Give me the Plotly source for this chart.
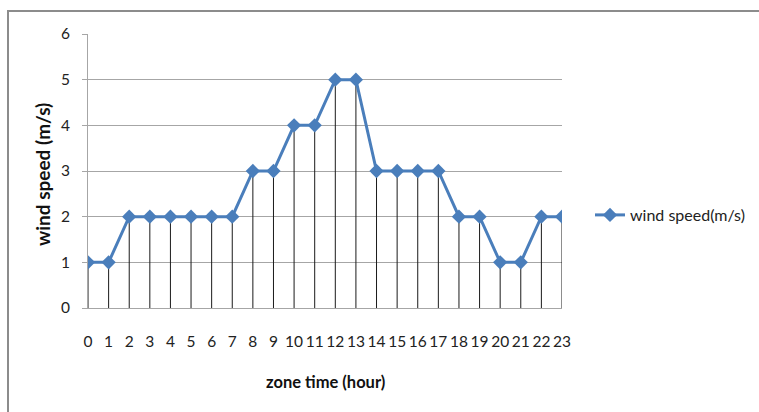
import plotly.graph_objects as go

# Hourly wind speed readings
hours = list(range(24))
wind_speed = [1, 1, 2, 2, 2, 2, 2, 2, 3, 3, 4, 4, 5, 5, 3, 3, 3, 3, 2, 2, 1, 1, 2, 2]
y_ticks = [0, 1, 2, 3, 4, 5, 6]
series_name = "wind speed(m/s)"
x_title = "zone time (hour)"
y_title = "wind speed (m/s)"

FONT = "Lato, Carlito, Calibri, sans-serif"
BLUE = "#4a7ebb"
GRID = "#a6a6a6"

# Drop lines from every point down to the category axis
drop_x, drop_y = [], []
for h, v in zip(hours, wind_speed):
    drop_x += [h, h, None]
    drop_y += [0, v, None]

fig = go.Figure()
fig.add_trace(go.Scatter(
    x=drop_x, y=drop_y, mode="lines",
    line=dict(color="#1a1a1a", width=1),
    showlegend=False, hoverinfo="skip",
))
fig.add_trace(go.Scatter(
    x=hours, y=wind_speed, mode="lines+markers", name=series_name,
    line=dict(color=BLUE, width=3),
    marker=dict(symbol="diamond", size=11, color=BLUE),
))

W, H = 759, 412
L, R, T, B = 88, 197, 34, 104
pw, ph = W - L - R, H - T - B

def px_x(x):
    return (x - L) / pw

def px_y(y):
    return (H - B - y) / ph

fig.update_layout(
    width=W, height=H,
    margin=dict(l=L, r=R, t=T, b=B, autoexpand=False),
    paper_bgcolor="white", plot_bgcolor="white",
    font=dict(family=FONT, size=15.5, color="#222222"),
    xaxis=dict(
        range=[0, 23], tickmode="array", tickvals=hours,
        ticktext=[str(h) for h in hours],
        showgrid=False, zeroline=False,
        showline=True, linecolor=GRID, linewidth=1,
        ticks="", ticklabelstandoff=19,
        tickfont=dict(size=15.5, family=FONT, color="#222222"),
    ),
    yaxis=dict(
        range=[0, 6], tickmode="array", tickvals=y_ticks,
        showgrid=True, gridcolor=GRID, gridwidth=1, zeroline=False,
        showline=True, linecolor=GRID, linewidth=1,
        ticks="outside", ticklen=5, tickcolor=GRID,
        ticklabelstandoff=9,
        tickfont=dict(size=15.5, family=FONT, color="#222222"),
    ),
    legend=dict(
        x=px_x(590), y=px_y(215), xanchor="left", yanchor="middle",
        font=dict(size=16, family=FONT, color="#222222"),
        bgcolor="rgba(0,0,0,0)", itemwidth=30,
    ),
    annotations=[
        dict(text=f"<b>{x_title}</b>", x=px_x(325), y=px_y(382),
             xref="paper", yref="paper", showarrow=False,
             xanchor="center", yanchor="middle",
             font=dict(size=16.5, family=FONT, color="#111111")),
        dict(text=f"<b>{y_title}</b>", x=px_x(42), y=px_y(175),
             xref="paper", yref="paper", showarrow=False, textangle=-90,
             xanchor="center", yanchor="middle",
             font=dict(size=19, family=FONT, color="#111111")),
    ],
    shapes=[
        dict(type="rect", xref="paper", yref="paper",
             x0=px_x(8), y0=px_y(430), x1=px_x(790), y1=px_y(11),
             line=dict(color="#8c8c8c", width=2), fillcolor="rgba(0,0,0,0)",
             layer="below"),
    ],
)

fig.write_html("out.html")
